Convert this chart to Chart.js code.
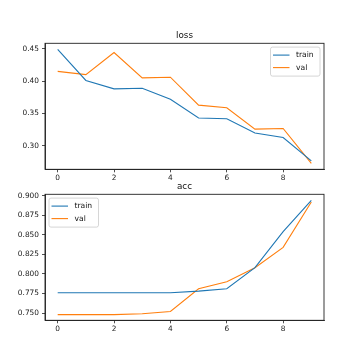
<!DOCTYPE html>
<html>
<head>
<meta charset="utf-8">
<script src="https://cdn.jsdelivr.net/npm/chart.js@4/dist/chart.umd.min.js"></script>
<style>
html,body{margin:0;padding:0;background:#fff;}
canvas{display:block;}
</style>
</head>
<body>
<canvas id="c1" width="360" height="180"></canvas>
<canvas id="c2" width="360" height="180"></canvas>
<script>
const epochs = [0, 1, 2, 3, 4, 5, 6, 7, 8, 9];
const lossTrain = [0.449, 0.401, 0.388, 0.389, 0.372, 0.343, 0.342, 0.320, 0.313, 0.277];
const lossVal   = [0.415, 0.410, 0.444, 0.405, 0.406, 0.363, 0.359, 0.326, 0.327, 0.273];
const accTrain  = [0.776, 0.776, 0.776, 0.776, 0.776, 0.778, 0.781, 0.808, 0.854, 0.894];
const accVal    = [0.748, 0.748, 0.748, 0.749, 0.752, 0.781, 0.790, 0.808, 0.834, 0.892];
const xTicks = [0, 2, 4, 6, 8];
const lossTicks = [0.30, 0.35, 0.40, 0.45];
const accTicks = [0.750, 0.775, 0.800, 0.825, 0.850, 0.875, 0.900];
const seriesNames = ['train', 'val'];
const colors = ['#1f77b4', '#ff7f0e'];

const FONT = '"DejaVu Sans", sans-serif';

const framePlugin = {
  id: 'frame',
  afterDraw(chart, args, opts) {
    const ctx = chart.ctx, a = chart.chartArea;
    ctx.save();
    ctx.strokeStyle = '#222';
    ctx.lineWidth = 0.9;
    ctx.strokeRect(a.left, a.top, a.right - a.left, a.bottom - a.top);
    // title
    ctx.fillStyle = '#111';
    ctx.font = '8.8px ' + FONT;
    ctx.textAlign = 'center';
    ctx.textBaseline = 'alphabetic';
    ctx.fillText(opts.title, (a.left + a.right) / 2, a.top - 5.6);
    // legend
    const w = 49.5, h = 29;
    const bx = opts.legendPos === 'right' ? a.right - 4 - w : a.left + 4;
    const by = a.top + 3.8;
    ctx.beginPath();
    if (ctx.roundRect) ctx.roundRect(bx, by, w, h, 2); else ctx.rect(bx, by, w, h);
    ctx.fillStyle = 'rgba(255,255,255,0.8)';
    ctx.fill();
    ctx.strokeStyle = '#cccccc';
    ctx.lineWidth = 0.8;
    ctx.stroke();
    ctx.font = '7.6px ' + FONT;
    ctx.textAlign = 'left';
    ctx.textBaseline = 'middle';
    chart.data.datasets.forEach((ds, i) => {
      const y = by + 8 + i * 12.5;
      ctx.strokeStyle = ds.borderColor;
      ctx.lineWidth = 1.1;
      ctx.beginPath();
      ctx.moveTo(bx + 2.5, y);
      ctx.lineTo(bx + 19, y);
      ctx.stroke();
      ctx.fillStyle = '#111';
      ctx.fillText(ds.label, bx + 25.5, y);
    });
    ctx.restore();
  }
};

function makeChart(id, train, val, yTicks, yMin, yMax, decimals, title, legendPos, padTop, padBottom) {
  return new Chart(document.getElementById(id), {
    type: 'line',
    data: {
      datasets: [train, val].map((arr, i) => ({
        label: seriesNames[i],
        data: epochs.map((e, j) => ({x: e, y: arr[j]})),
        borderColor: colors[i],
        backgroundColor: colors[i],
        borderWidth: 1.1,
        pointRadius: 0,
        tension: 0,
        fill: false
      }))
    },
    options: {
      responsive: false,
      animation: false,
      devicePixelRatio: 1,
      layout: {padding: {left: 0, right: 36, top: padTop, bottom: padBottom}},
      plugins: {
        legend: {display: false},
        tooltip: {enabled: false},
        title: {display: false},
        frame: {title: title, legendPos: legendPos}
      },
      scales: {
        x: {
          type: 'linear',
          min: -0.45,
          max: 9.45,
          afterBuildTicks: s => { s.ticks = xTicks.map(v => ({value: v})); },
          afterFit: s => { s.height = 10.7; },
          grid: {drawOnChartArea: false, drawTicks: true, tickLength: 3, color: '#222', lineWidth: 0.8},
          border: {display: true, color: '#222', width: 0.9},
          ticks: {font: {family: FONT, size: 7.4}, color: '#222', padding: 1.5, maxRotation: 0, autoSkip: false,
                  callback: v => String(v)}
        },
        y: {
          type: 'linear',
          min: yMin,
          max: yMax,
          afterBuildTicks: s => { s.ticks = yTicks.map(v => ({value: v})); },
          afterFit: s => { s.width = 45; },
          grid: {drawOnChartArea: false, drawTicks: true, tickLength: 3, color: '#222', lineWidth: 0.8},
          border: {display: true, color: '#222', width: 0.9},
          ticks: {font: {family: FONT, size: 7.4}, color: '#222', padding: 3, autoSkip: false,
                  callback: v => Number(v).toFixed(decimals)}
        }
      }
    },
    plugins: [framePlugin]
  });
}

makeChart('c1', lossTrain, lossVal, lossTicks, 0.264, 0.4583, 2, 'loss', 'right', 43.3, 0);
makeChart('c2', accTrain, accVal, accTicks, 0.7407, 0.9018, 3, 'acc', 'left', 14.3, 29);
</script>
</body>
</html>
